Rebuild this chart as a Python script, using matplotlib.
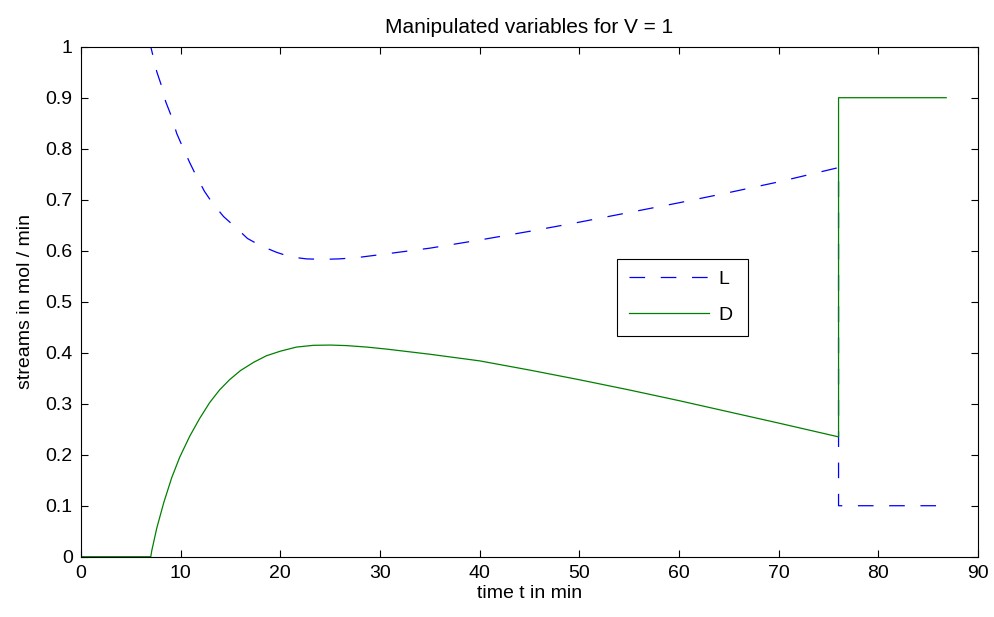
import matplotlib; matplotlib.use('Agg')
import matplotlib.pyplot as plt

plt.rcParams['font.family'] = ['Liberation Sans', 'DejaVu Sans']

# --- data ---
t_L = [0, 7, 7.6, 8.1, 8.5, 9.1, 9.6, 10.2, 10.9, 11.6, 12.4, 13.2, 14.3, 15.5, 16.7, 18.0, 19.6,
       21.0, 22.6, 24.2, 25.9, 27.5, 29.1, 30.7, 35, 40, 45, 50, 55, 60, 65, 70, 76, 76, 86.8]
L = [1.0, 1.0, 0.951, 0.922, 0.892, 0.862, 0.830, 0.803, 0.773, 0.745, 0.716, 0.693, 0.667, 0.646,
     0.624, 0.610, 0.597, 0.588, 0.584, 0.583, 0.584, 0.586, 0.590, 0.594, 0.605, 0.621, 0.638,
     0.656, 0.675, 0.694, 0.714, 0.735, 0.763, 0.1, 0.1]
t_D = [0, 7, 7.1, 7.6, 8.3, 9.1, 9.9, 10.9, 11.9, 12.9, 13.9, 14.9, 16.0, 17.3, 18.6, 20.0, 21.6,
       23.3, 25.0, 26.6, 28.7, 30.7, 35, 40, 45, 50, 55, 60, 65, 70, 76, 76, 86.8]
D = [0.0, 0.0, 0.012, 0.056, 0.106, 0.155, 0.195, 0.236, 0.271, 0.302, 0.327, 0.347, 0.365, 0.381,
     0.394, 0.403, 0.411, 0.4145, 0.415, 0.414, 0.411, 0.407, 0.397, 0.384, 0.366, 0.347,
     0.327, 0.306, 0.284, 0.262, 0.235, 0.9, 0.9]
xticks = list(range(0, 91, 10))
yticks = [0, 0.1, 0.2, 0.3, 0.4, 0.5, 0.6, 0.7, 0.8, 0.9, 1]
yticklabels = ['0', '0.1', '0.2', '0.3', '0.4', '0.5', '0.6', '0.7', '0.8', '0.9', '1']

fig = plt.figure(figsize=(9.94, 6.17), dpi=100)
ax = fig.add_axes([0.0815, 0.0977, 0.9025, 0.8266])

ax.plot(t_L, L, color='#0000ff', lw=0.9, dashes=(12.5, 12.5), label='L')
ax.plot(t_D, D, color='#008000', lw=0.9, label='D')

ax.set_xlim(0, 90)
ax.set_ylim(0, 1)
ax.set_xticks(xticks)
ax.set_yticks(yticks)
ax.set_yticklabels(yticklabels)
ax.tick_params(direction='in', top=True, right=True, length=5, width=0.8, labelsize=14, pad=6)
for s in ax.spines.values():
    s.set_linewidth(0.8)

ax.set_xlabel('time t in min', fontsize=14, labelpad=2)
ax.set_ylabel('streams in mol / min', fontsize=14, labelpad=8)
ax.set_title('Manipulated variables for V = 1', fontsize=15, pad=10)

leg = ax.legend(loc='lower left', bbox_to_anchor=(0.598, 0.433, 0.145, 0.151), mode='expand',
                fancybox=False, edgecolor='black', framealpha=1, fontsize=14,
                handlelength=4.1, handletextpad=0.5, borderaxespad=0, borderpad=0.6,
                labelspacing=0.95)
leg.get_frame().set_linewidth(0.8)

fig.savefig('out.png', dpi=100, facecolor='white')
